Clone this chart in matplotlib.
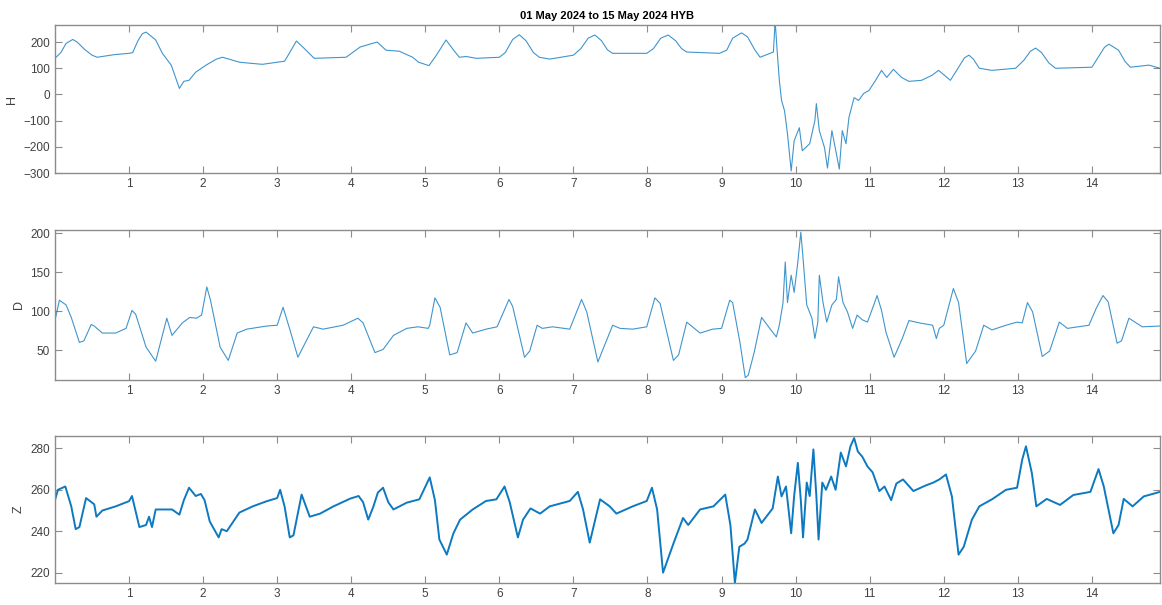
import matplotlib
matplotlib.use("Agg")
import matplotlib.pyplot as plt

plt.rcParams['font.family'] = ['Liberation Sans', 'DejaVu Sans']

title = '01 May 2024 to 15 May 2024 HYB'
day_ticks = list(range(1, 15))

# H component (nT)
h_days = [0.0, 0.08, 0.15, 0.24, 0.30, 0.40, 0.50, 0.57, 0.80, 1.0, 1.05, 1.12, 1.18, 1.23,
          1.30, 1.36, 1.45, 1.57, 1.68, 1.74, 1.81, 1.90, 2.04, 2.18, 2.26, 2.35, 2.49, 2.80,
          3.10, 3.17, 3.26, 3.35, 3.50, 3.93, 4.12, 4.25, 4.35, 4.47, 4.65, 4.83, 4.91, 5.05,
          5.15, 5.28, 5.38, 5.46, 5.55, 5.69, 6.0, 6.08, 6.18, 6.27, 6.36, 6.46, 6.54, 6.68,
          7.0, 7.10, 7.20, 7.29, 7.38, 7.46, 7.53, 7.99, 8.08, 8.18, 8.28, 8.38, 8.46, 8.53,
          8.97, 9.07, 9.15, 9.27, 9.35, 9.45, 9.52, 9.70, 9.72, 9.73, 9.75, 9.78, 9.81, 9.85,
          9.89, 9.94, 9.98, 10.05, 10.09, 10.19, 10.26, 10.28, 10.32, 10.39, 10.43, 10.49,
          10.55, 10.59, 10.63, 10.68, 10.72, 10.79, 10.85, 10.92, 10.99, 11.08, 11.16, 11.23,
          11.32, 11.43, 11.53, 11.70, 11.84, 11.93, 12.09, 12.20, 12.28, 12.34, 12.40, 12.48,
          12.65, 12.97, 13.08, 13.17, 13.24, 13.32, 13.42, 13.51, 14.0, 14.08, 14.17, 14.23,
          14.36, 14.45, 14.52, 14.77, 14.92]
h_vals = [138, 160, 195, 210, 200, 172, 150, 142, 152, 157, 160, 205, 232, 238,
          222, 208, 157, 112, 23, 50, 54, 85, 112, 135, 142, 135, 123, 115,
          127, 160, 204, 180, 138, 142, 181, 192, 200, 169, 165, 142, 123, 110,
          150, 208, 170, 142, 145, 138, 142, 160, 210, 228, 205, 160, 142, 135,
          150, 175, 215, 227, 205, 170, 157, 157, 175, 215, 227, 205, 175, 162,
          157, 169, 215, 235, 220, 170, 142, 162, 262, 254, 169, 54, -23, -62,
          -150, -292, -177, -127, -215, -188, -100, -35, -138, -203, -281, -138,
          -227, -285, -138, -188, -88, -12, -23, 4, 15, 54, 92, 65,
          96, 65, 50, 54, 73, 92, 54, 104, 140, 150, 135, 100,
          92, 100, 130, 165, 177, 160, 120, 100, 104, 140, 180, 192,
          169, 125, 104, 112, 100]

# D component
d_days = [0.0, 0.06, 0.15, 0.22, 0.33, 0.39, 0.49, 0.53, 0.64, 0.82, 0.96, 1.04, 1.09, 1.23,
          1.36, 1.51, 1.58, 1.72, 1.82, 1.91, 1.98, 2.05, 2.10, 2.23, 2.34, 2.46, 2.59, 2.86,
          3.0, 3.08, 3.17, 3.28, 3.49, 3.62, 3.89, 4.09, 4.16, 4.32, 4.43, 4.57, 4.75, 4.90,
          5.04, 5.06, 5.13, 5.20, 5.33, 5.43, 5.55, 5.64, 5.82, 5.97, 6.13, 6.18, 6.34, 6.41,
          6.51, 6.58, 6.72, 6.95, 7.11, 7.18, 7.33, 7.53, 7.63, 7.80, 7.99, 8.10, 8.17, 8.35,
          8.42, 8.53, 8.71, 8.88, 9.0, 9.11, 9.15, 9.25, 9.32, 9.36, 9.44, 9.54, 9.65, 9.74,
          9.78, 9.83, 9.86, 9.89, 9.94, 9.98, 10.03, 10.07, 10.10, 10.15, 10.22, 10.26, 10.30,
          10.32, 10.37, 10.42, 10.49, 10.55, 10.58, 10.64, 10.70, 10.77, 10.83, 10.90, 10.97,
          11.04, 11.10, 11.16, 11.22, 11.33, 11.44, 11.53, 11.67, 11.85, 11.90, 11.94, 12.0,
          12.13, 12.20, 12.31, 12.43, 12.54, 12.65, 12.84, 12.99, 13.06, 13.13, 13.20, 13.33,
          13.43, 13.56, 13.67, 13.96, 14.06, 14.15, 14.22, 14.34, 14.40, 14.50, 14.68, 14.92]
d_vals = [88, 114, 108, 92, 60, 62, 83, 81, 72, 72, 78, 101, 96, 54,
          36, 91, 69, 85, 92, 91, 95, 131, 114, 54, 37, 72, 77, 81,
          82, 105, 77, 41, 80, 77, 82, 91, 85, 47, 51, 69, 78, 80,
          78, 82, 117, 105, 44, 47, 85, 72, 77, 80, 115, 106, 41, 49,
          82, 78, 80, 77, 115, 99, 35, 82, 78, 77, 80, 117, 110, 37,
          44, 86, 72, 77, 78, 114, 111, 59, 15, 18, 47, 92, 78, 67,
          82, 111, 163, 111, 146, 124, 163, 201, 168, 108, 91, 65, 86,
          146, 111, 86, 108, 115, 144, 111, 99, 78, 95, 89, 86,
          104, 120, 101, 73, 41, 65, 88, 85, 82, 65, 78, 82,
          129, 111, 33, 49, 82, 76, 82, 86, 85, 111, 99, 42,
          49, 86, 78, 82, 104, 120, 112, 59, 62, 91, 80, 81]

# Z component
z_days = [0.0, 0.04, 0.14, 0.22, 0.28, 0.33, 0.42, 0.53, 0.56, 0.64, 0.82, 1.0, 1.04, 1.14,
          1.23, 1.27, 1.31, 1.36, 1.58, 1.68, 1.74, 1.81, 1.90, 1.97, 2.02, 2.09, 2.21, 2.25,
          2.32, 2.49, 2.67, 2.86, 3.0, 3.04, 3.10, 3.17, 3.22, 3.33, 3.44, 3.58, 3.76, 3.99,
          4.10, 4.16, 4.23, 4.30, 4.36, 4.43, 4.50, 4.57, 4.75, 4.92, 5.06, 5.13, 5.19, 5.29,
          5.38, 5.47, 5.64, 5.82, 5.96, 6.07, 6.14, 6.25, 6.32, 6.42, 6.55, 6.68, 6.95, 7.06,
          7.13, 7.22, 7.36, 7.49, 7.58, 7.80, 7.99, 8.06, 8.13, 8.21, 8.35, 8.48, 8.55, 8.71,
          8.89, 9.05, 9.12, 9.18, 9.24, 9.31, 9.35, 9.45, 9.54, 9.69, 9.76, 9.81, 9.87, 9.94,
          9.98, 10.03, 10.07, 10.10, 10.15, 10.19, 10.24, 10.28, 10.31, 10.36, 10.41, 10.48,
          10.54, 10.61, 10.68, 10.74, 10.79, 10.84, 10.90, 10.97, 11.04, 11.13, 11.20, 11.29,
          11.36, 11.45, 11.59, 11.75, 11.86, 11.94, 12.03, 12.11, 12.20, 12.27, 12.38, 12.48,
          12.66, 12.84, 12.99, 13.06, 13.11, 13.19, 13.25, 13.39, 13.57, 13.75, 13.98, 14.09,
          14.16, 14.29, 14.36, 14.43, 14.55, 14.70, 14.92]
z_vals = [255, 260, 261.6, 252, 241, 242, 256, 253, 247, 250, 252, 254.5, 257, 242,
          243, 247, 242, 250.5, 250.5, 248, 255, 261, 257, 258, 255, 244.7, 237, 241,
          240, 249, 252, 254.5, 256, 260, 252, 237, 238, 257.7, 247, 248.5, 252, 255.8,
          257, 254, 245.6, 252, 258.7, 261, 254, 250.5, 253.8, 255.4, 266, 255, 236, 228.7,
          239, 245.6, 250.5, 254.6, 255.4, 261.6, 254, 237, 245.6, 251, 248.5, 252, 254.6, 259,
          250.5, 234.5, 255.4, 252, 248.5, 252, 254.6, 261, 250.5, 220, 234, 246.4, 243, 250.5,
          252, 257.7, 242.8, 215, 232.5, 234, 236, 250.5, 244, 251, 266.4, 256.8, 261.6, 239,
          257, 273, 255, 237, 263.5, 257, 279.5, 257, 236, 263.5, 260, 266.4,
          260, 278, 271.3, 281, 285, 278.5, 276, 271.3, 268.4, 259.4, 261.6, 255,
          263, 265, 259.4, 262, 263.5, 265, 267.4, 256.8, 228.7, 232.5, 245.6, 252,
          255.6, 260, 261, 274.7, 281, 268, 252, 255.6, 252.7, 257.5, 259, 270,
          261.7, 239, 243, 255.6, 252, 256.8, 259]

line_color = '#0072BD'
axis_color = '#8c8c8c'
text_color = '#404040'

fig = plt.figure(figsize=(11.62, 6.05), dpi=100)
ax_h = fig.add_axes([0.0473, 0.714, 0.951, 0.2446])
ax_d = fig.add_axes([0.0473, 0.372, 0.951, 0.248])
ax_z = fig.add_axes([0.0473, 0.0364, 0.951, 0.243])

panels = [
    (ax_h, h_days, h_vals, 'H', (-300, 265), [-300, -200, -100, 0, 100, 200], 0.8, 0.75),
    (ax_d, d_days, d_vals, 'D', (12, 204), [50, 100, 150, 200], 0.8, 0.75),
    (ax_z, z_days, z_vals, 'Z', (215, 286), [220, 240, 260, 280], 1.4, 0.95),
]

for ax, x, y, name, ylim, yticks, lw, alpha in panels:
    ax.plot(x, y, color=line_color, linewidth=lw, alpha=alpha)
    ax.set_xlim(0, 14.92)
    ax.set_ylim(*ylim)
    ax.set_xticks(day_ticks)
    ax.set_yticks(yticks)
    ax.set_ylabel(name, fontsize=9, color=text_color, labelpad=4)
    ax.tick_params(direction='in', length=5, width=0.8, top=True, right=True,
                   labelsize=8.5, colors=axis_color, labelcolor=text_color)
    for sp in ax.spines.values():
        sp.set_color(axis_color)
        sp.set_linewidth(1.0)

ax_h.set_title(title, fontsize=8, fontweight='bold', pad=4)

fig.savefig('out.png', dpi=100)
